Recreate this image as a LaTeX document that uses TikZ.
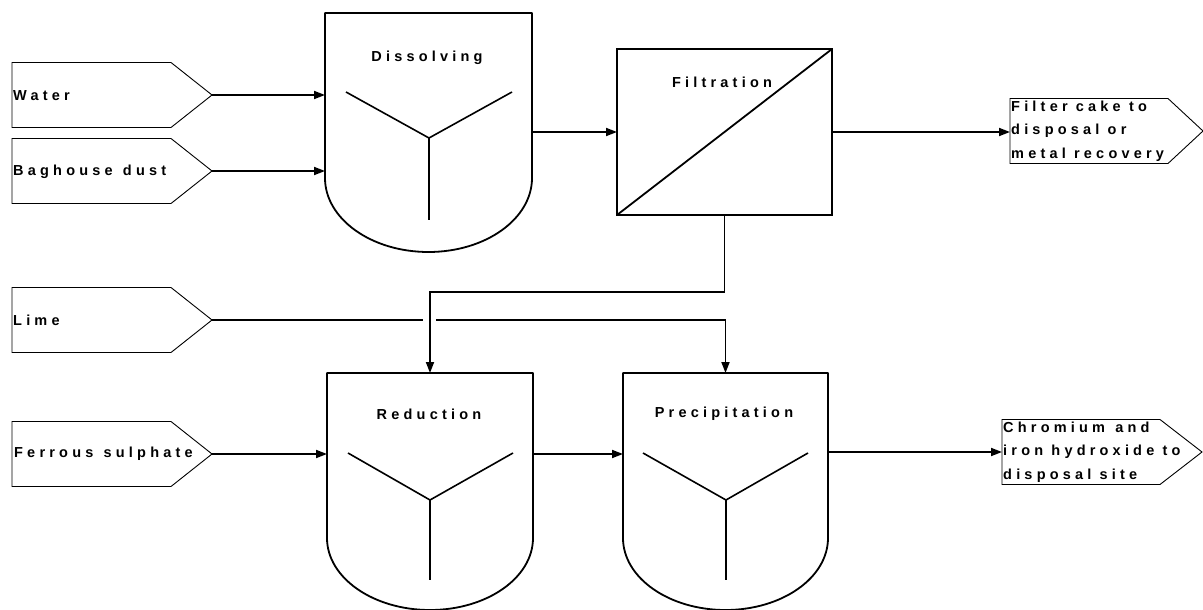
\documentclass[tikz,border=0pt]{standalone}
\usepackage{fontspec}
\newfontfamily\lsfont{Liberation Sans Bold}[LetterSpace=29]
\usetikzlibrary{arrows.meta}
\tikzset{
 vessel/.style={draw, line width=1.8pt, line join=round},
 agit/.style={draw, line width=1.6pt},
 pentline/.style={draw, line width=0.9pt, line join=miter},
 flow/.style={draw, line width=1.8pt, -{Triangle[length=11pt,width=8pt]}},
 plain/.style={draw, line width=1.8pt},
 lbl/.style={font=\lsfont\fontsize{14.5}{17}\selectfont, inner sep=0pt},
 lbltwo/.style={font=\lsfont\fontsize{14.5}{23.5}\selectfont, inner sep=0pt, align=left},
 region/.style={rectangle, draw=none, inner sep=0pt, outer sep=0pt},
}
% #1 name, #2 left x, #3 flat end x, #4 tip x, #5 centre y
\newcommand{\pentshape}[5]{%
 \draw[pentline] (#2,#5-32.5) -- (#3,#5-32.5) -- (#4,#5) -- (#3,#5+32.5) -- (#2,#5+32.5) -- cycle;
 \coordinate (#1-tip) at (#4,#5);
}
\begin{document}
\begin{tikzpicture}[x=1pt,y=-1pt]
\useasboundingbox (0,0) rectangle (1203,610);
\fill[white] (0,0) rectangle (1203,610);

% ---- input pentagons
\pentshape{water}{12}{171}{212}{95}
\node[lbl, anchor=west] (waterlbl) at (13,96) {Water};
\pentshape{dust}{12}{171}{212}{171}
\node[lbl, anchor=west] (dustlbl) at (13,172) {Baghouse\hspace{2pt} dust};
\pentshape{lime}{12}{171}{212}{320}
\node[lbl, anchor=west] (limelbl) at (13,320) {Lime};
\pentshape{ferr}{12}{171}{212}{454}
\node[lbl, anchor=west] (ferrlbl) at (14,454) {Ferrous\hspace{2pt} sulphate};

% ---- output pentagons
\pentshape{cake}{1010}{1168}{1203}{131}
\node[region, minimum width=158pt, minimum height=65pt] (cake) at (1089,131) {};
\node[lbltwo, anchor=west] (cakelbl) at (1011,131) {Filter cake to\\disposal or\\metal recovery};
\pentshape{chrom}{1002}{1160}{1202}{452}
\node[region, minimum width=158pt, minimum height=65pt] (chrom) at (1081,452) {};
\node[lbltwo, anchor=west] (chromlbl) at (1003,452) {Chromium\hspace{2pt} and\\iron hydroxide to\\disposal site};

% ---- dissolving vessel
\draw[vessel] (325,13) -- (532,13) -- (532,178) arc[start angle=0,end angle=-180,x radius=103.5pt,y radius=74pt] -- cycle;
\node[region, minimum width=207pt, minimum height=165pt] (diss) at (428.5,95.5) {};
\node[lbl] (disslbl) at (427,58) {Dissolving};
\coordinate (dissc) at (429,138);
\draw[agit] (346,92) -- (dissc) -- (512,92);
\draw[agit] (dissc) -- (429,220);

% ---- filtration
\node[draw, line width=1.8pt, minimum width=215pt, minimum height=166pt, inner sep=0pt, outer sep=0pt] (filt) at (724.5,132) {};
\draw[plain] (filt.south west) -- (filt.north east);
\node[lbl] (filtlbl) at (722,82) {Filtration};

% ---- reduction vessel
\draw[vessel] (327,373) -- (533,373) -- (533,538) arc[start angle=0,end angle=-180,x radius=103pt,y radius=72pt] -- cycle;
\node[region, minimum width=206pt, minimum height=165pt] (red) at (430,455.5) {};
\node[lbl] (redlbl) at (429,414) {Reduction};
\coordinate (redc) at (430,500);
\draw[agit] (348,453) -- (redc) -- (513,453);
\draw[agit] (redc) -- (430,580);

% ---- precipitation vessel
\draw[vessel] (623,373) -- (828,373) -- (828,538) arc[start angle=0,end angle=-180,x radius=102.5pt,y radius=72pt] -- cycle;
\node[region, minimum width=205pt, minimum height=165pt] (prec) at (725.5,455.5) {};
\node[lbl] (preclbl) at (724,414) {Precipitation};
\coordinate (precc) at (726,500);
\draw[agit] (643,453) -- (precc) -- (808,453);
\draw[agit] (precc) -- (726,580);

% ---- connectors
\draw[flow] (water-tip) -- (water-tip -| diss.west);
\draw[flow] (dust-tip) -- (dust-tip -| diss.west);
\draw[flow] (diss.east |- filt.west) -- (filt.west);
\draw[flow] (filt.east) -- (filt.east -| cake.west);
\draw[flow] (lime-tip) -| (prec.north);
\coordinate (cross) at (red.north |- lime-tip);
\fill[white] ([xshift=-7pt,yshift=3.5pt]cross) rectangle ([xshift=6pt,yshift=-3.5pt]cross);
\draw[flow] (filt.south) -- ++(0,77) -| (red.north);
\draw[flow] (ferr-tip) -- (ferr-tip -| red.west);
\draw[flow] (red.east |- ferr-tip) -- (prec.west |- ferr-tip);
\draw[flow] (prec.east |- chrom.west) -- (chrom.west);
\end{tikzpicture}
\end{document}
